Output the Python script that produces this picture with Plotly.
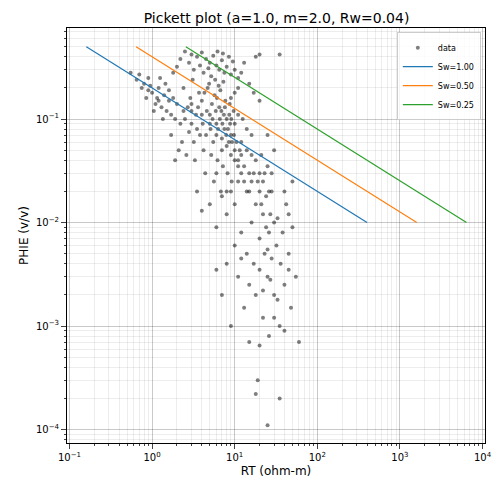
import plotly.graph_objects as go

# hand-read sample of the scatter cloud (RT ohm-m, PHIE v/v)
rt = [2.5, 3, 3.5, 4, 4.5, 5, 5.5, 6, 6.5, 7, 7.5, 8, 9, 10, 11, 12, 13, 3.2, 2.8, 4.2, 5.2, 6.2, 7.2, 8.5, 9.5, 3.8, 4.8, 2.2, 2.0, 1.8, 15, 18, 20, 35, 17, 20,
      0.55, 0.7, 0.8, 0.9, 0.85, 1.0, 1.1, 1.2, 1.3, 1.4, 1.5, 1.6, 1.7, 1.8, 1.9, 2.0, 0.95, 1.05, 1.25, 0.75, 1.15, 1.35, 2.2, 2.4, 0.65,
      2.5, 3, 3.5, 4, 4.5, 5, 5.5, 6, 6.5, 7, 7.5, 8, 8.5, 9, 10, 10, 11, 12, 13, 14, 15, 16, 18, 20, 22, 25, 3.2, 2.8, 4.2, 5.2, 6.2, 7.2, 8.2, 9.2,
      3.7, 4.7, 5.7, 6.7, 7.7, 8.7, 9.7, 11, 12.5, 14, 16, 2.3, 2.6, 3.3, 4.4, 5.6, 6.8, 2.1, 1.7, 1.9, 30, 25, 28, 9, 10, 11, 3, 4, 5, 6, 7, 8, 9, 10, 11, 12,
      6, 7, 8, 9, 10, 11, 12, 13, 14, 15, 16, 17, 18, 19, 20, 21, 22, 23, 24, 25, 26, 27, 28, 30, 32, 33, 35, 36, 38, 40, 42, 45, 48, 50, 55, 60, 35, 25, 18, 20,
      12, 14, 16, 18, 20, 22, 24, 26, 28, 30, 40, 45, 50, 10, 9, 8, 7, 5, 6, 4, 3.5, 30, 15, 20, 25, 40, 45, 33, 27, 22,
      3, 3.4, 3.8, 4.1, 4.6, 5.1, 5.4, 5.9, 6.3, 6.6, 7.1, 7.4, 7.9, 8.3, 8.8, 9.3, 9.8, 10.5, 11.5, 12, 2.7, 2.9, 3.6, 4.3, 5.3, 6.1, 6.9, 7.6, 8.6, 9.1,
      4.9, 5.8, 6.4, 7.3, 3.1, 2.4, 1.6, 1.2, 1.45, 0.9, 13, 15, 17, 19, 21, 23, 26, 11, 8, 6]
phie = [0.45, 0.42, 0.40, 0.44, 0.38, 0.35, 0.41, 0.33, 0.30, 0.37, 0.28, 0.32, 0.27, 0.30, 0.25, 0.28, 0.35, 0.30, 0.35, 0.28, 0.26, 0.45, 0.43, 0.40, 0.36, 0.33, 0.31, 0.38, 0.32, 0.28, 0.22, 0.40, 0.42, 0.42, 0.18, 0.15,
        0.28, 0.27, 0.22, 0.19, 0.16, 0.18, 0.14, 0.20, 0.13, 0.17, 0.12, 0.15, 0.11, 0.16, 0.10, 0.14, 0.21, 0.12, 0.25, 0.20, 0.16, 0.10, 0.09, 0.12, 0.24,
        0.10, 0.12, 0.08, 0.15, 0.07, 0.11, 0.06, 0.09, 0.13, 0.05, 0.08, 0.10, 0.06, 0.07, 0.05, 0.09, 0.04, 0.06, 0.035, 0.05, 0.03, 0.045, 0.04, 0.03, 0.025, 0.035, 0.06, 0.075, 0.05, 0.045, 0.04, 0.035, 0.03, 0.025,
        0.18, 0.20, 0.17, 0.19, 0.15, 0.14, 0.12, 0.11, 0.10, 0.08, 0.07, 0.06, 0.045, 0.04, 0.03, 0.025, 0.02, 0.05, 0.07, 0.04, 0.05, 0.07, 0.03, 0.16, 0.18, 0.2, 0.14, 0.11, 0.09, 0.07, 0.065, 0.055, 0.045, 0.04, 0.035, 0.03,
        0.0035, 0.002, 0.004, 0.001, 0.006, 0.003, 0.008, 0.0015, 0.005, 0.0007, 0.01, 0.004, 0.002, 0.0003, 0.007, 0.015, 0.0012, 0.005, 0.009, 0.003, 0.0008, 0.012, 0.0045, 0.002, 0.006, 0.011, 0.001, 0.004, 0.008, 0.0025, 0.015, 0.005, 0.0015, 0.009, 0.003, 0.0007, 0.0002, 0.00011, 0.00022, 0.00065,
        0.0045, 0.02, 0.025, 0.015, 0.02, 0.012, 0.018, 0.008, 0.02, 0.01, 0.02, 0.012, 0.025, 0.015, 0.02, 0.012, 0.018, 0.015, 0.009, 0.013, 0.02, 0.0012, 0.0025, 0.0035, 0.0055, 0.0009, 0.0035, 0.0018, 0.0028, 0.0022,
        0.09, 0.11, 0.07, 0.09, 0.12, 0.08, 0.10, 0.12, 0.08, 0.10, 0.09, 0.11, 0.07, 0.08, 0.09, 0.06, 0.07, 0.06, 0.05, 0.045, 0.13, 0.16, 0.13, 0.18, 0.14, 0.16, 0.12, 0.13, 0.11, 0.10,
        0.22, 0.24, 0.21, 0.23, 0.24, 0.2, 0.19, 0.15, 0.22, 0.25, 0.025, 0.02, 0.03, 0.025, 0.045, 0.03, 0.02, 0.025, 0.02, 0.03]

a, m, n, rw = 1.0, 2.0, 2.0, 0.04
sw_values = [1.00, 0.50, 0.25]
sw_colors = ["#1f77b4", "#ff7f0e", "#2ca02c"]
phi_line = [0.5, 0.01]

x_tickvals = [0.1, 1, 10, 100, 1000, 10000]
x_ticktext = ["10<sup>−1</sup>", "10<sup>0</sup>", "10<sup>1</sup>", "10<sup>2</sup>", "10<sup>3</sup>", "10<sup>4</sup>"]
y_tickvals = [1e-4, 1e-3, 1e-2, 1e-1]
y_ticktext = ["10<sup>−4</sup>", "10<sup>−3</sup>", "10<sup>−2</sup>", "10<sup>−1</sup>"]

fig = go.Figure()
fig.add_trace(go.Scatter(x=rt, y=phie, mode="markers", name="data",
                         marker=dict(size=4, color="rgba(0,0,0,0.5)", line=dict(width=0))))
for sw, col in zip(sw_values, sw_colors):
    rt_line = [a * rw / (p ** m * sw ** n) for p in phi_line]
    fig.add_trace(go.Scatter(x=rt_line, y=phi_line, mode="lines", name=f"Sw={sw:.2f}",
                             line=dict(color=col, width=1.2)))

ax = dict(type="log", showline=True, linecolor="black", mirror=True, ticks="outside",
          showgrid=True, gridcolor="rgba(0,0,0,0.15)", zeroline=False, automargin=False,
          tickfont=dict(size=10, color="black"),
          minor=dict(showgrid=True, gridcolor="rgba(0,0,0,0.07)", dtick="D1", ticks="outside", ticklen=2))
fig.update_layout(
    width=502, height=495, paper_bgcolor="white", plot_bgcolor="white",
    font=dict(family="DejaVu Sans", color="black"),
    margin=dict(l=59, r=25, t=20, b=60),
    title=dict(text="Pickett plot (a=1.0, m=2.0, Rw=0.04)", x=0.535, xanchor="center", y=0.99, font=dict(size=14)),
    xaxis=dict(ax, range=[-1.03, 4.03], tickvals=x_tickvals, ticktext=x_ticktext,
               title=dict(text="RT (ohm-m)", font=dict(size=12), standoff=4)),
    yaxis=dict(ax, range=[-4.13, -0.12], tickvals=y_tickvals, ticktext=y_ticktext,
               title=dict(text="PHIE (v/v)", font=dict(size=12), standoff=4)),
    legend=dict(x=0.99, y=0.99, xanchor="right", yanchor="top", bgcolor="rgba(255,255,255,0.8)",
                bordercolor="#ccc", borderwidth=1, font=dict(size=8), itemwidth=30,
                tracegroupgap=0),
)
fig.write_html("out.html")
